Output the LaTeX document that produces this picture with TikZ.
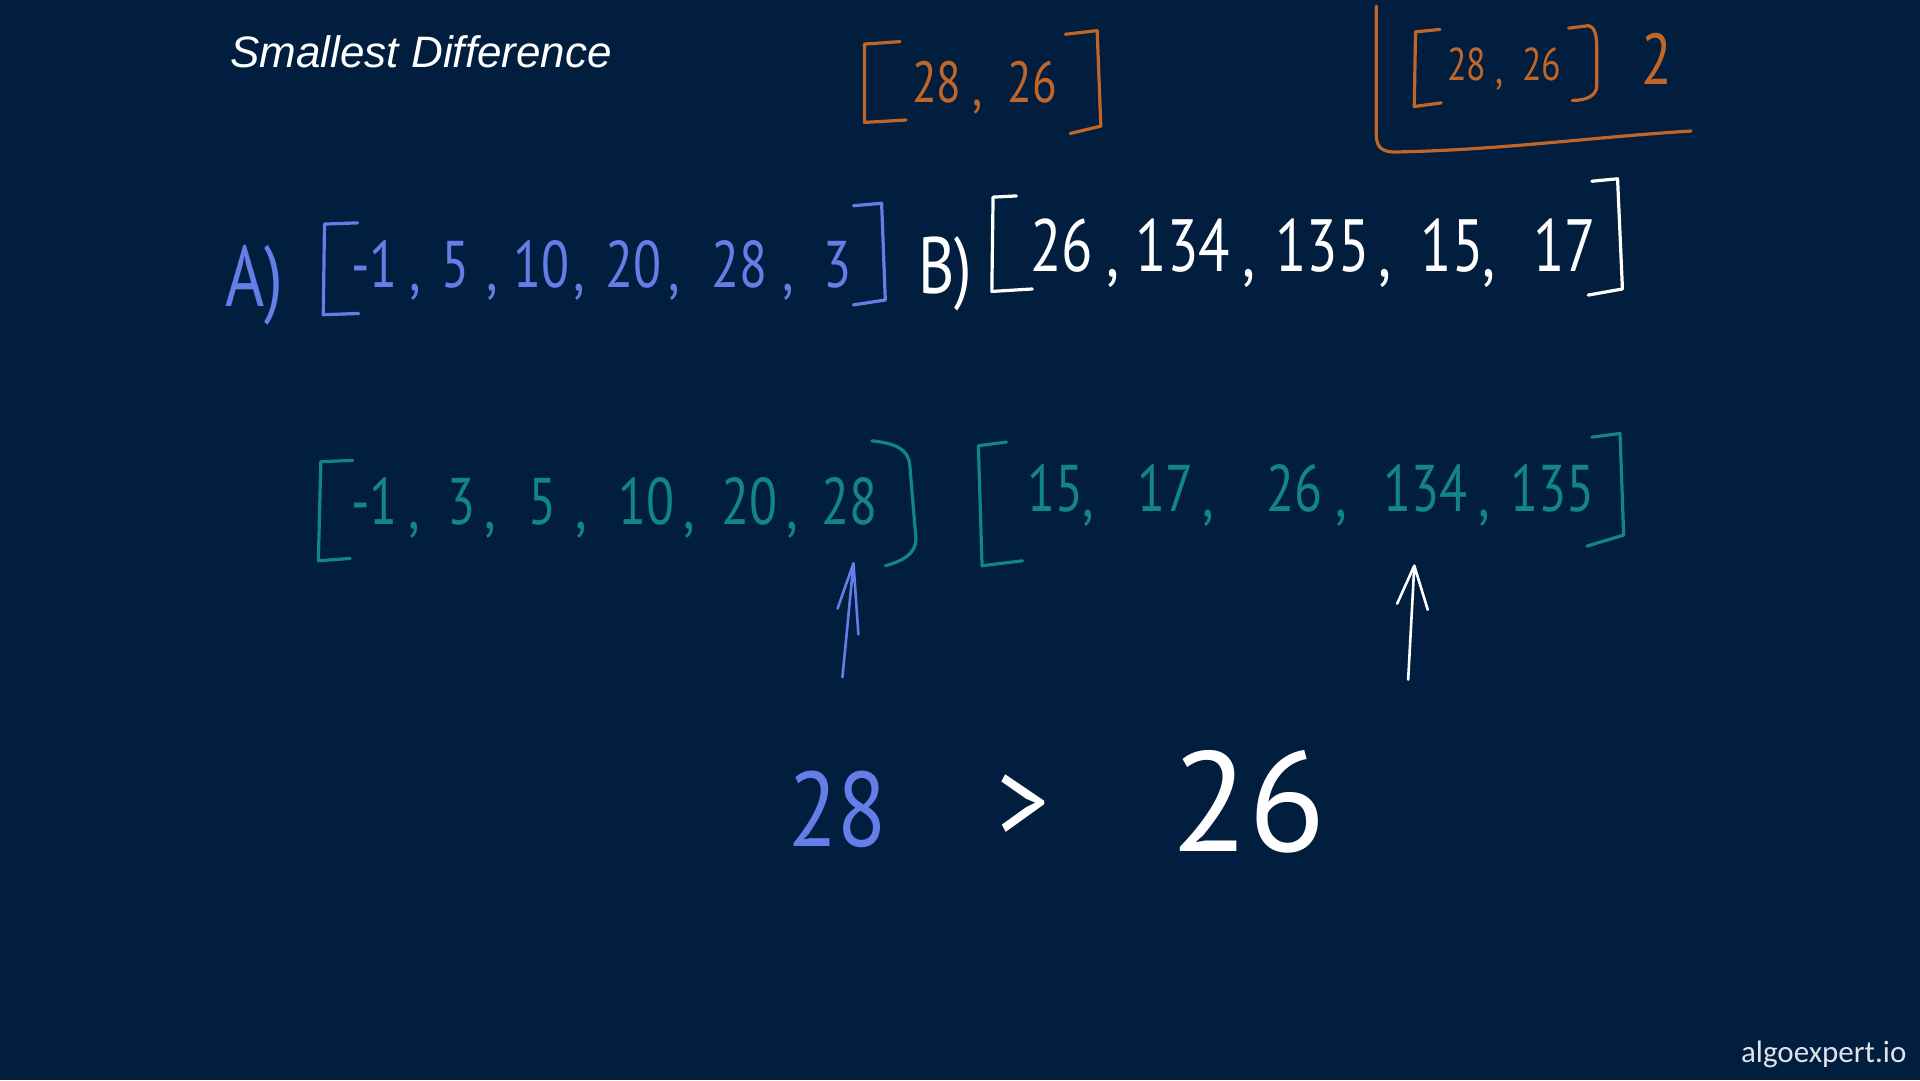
\documentclass[tikz,border=0pt]{standalone}
\usepackage{fontspec}
\setmainfont{PT Sans}
\newfontfamily\handfont[FakeStretch=0.78]{PT Sans}
\newfontfamily\bighand[FakeStretch=0.85]{PT Sans}
\newfontfamily\titlefont{Liberation Sans}
\newfontfamily\wmfont{Carlito}
\definecolor{bgnavy}{RGB}{1,30,62}
\definecolor{penblue}{RGB}{100,126,232}
\definecolor{penteal}{RGB}{18,132,140}
\definecolor{penorange}{RGB}{192,102,40}
\definecolor{wmgray}{RGB}{222,226,234}
\tikzset{
  hand/.style={line width=3.2pt, line cap=round, line join=round},
  num/.style={inner sep=0pt, anchor=base},
  bluenum/.style={num, text=penblue, font=\handfont\fontsize{66}{66}\selectfont},
  whitenum/.style={num, text=white, font=\handfont\fontsize{74}{74}\selectfont},
  tealnum/.style={num, text=penteal, font=\handfont\fontsize{66}{66}\selectfont},
  orangenum/.style={num, text=penorange, font=\handfont\fontsize{58}{58}\selectfont},
  smallorange/.style={num, text=penorange, font=\handfont\fontsize{46}{46}\selectfont},
}
\begin{document}
\begin{tikzpicture}[x=1.2245pt,y=-1.2245pt]
\fill[bgnavy] (0,0) rectangle (1568,882);
\useasboundingbox (0,0) rectangle (1568,882);

% title and watermark
\node[inner sep=0pt, anchor=base west, text=white, font=\titlefont\itshape\fontsize{44}{44}\selectfont] (title) at (188,55.5) {Smallest Difference};
\node[inner sep=0pt, anchor=base east, text=wmgray, font=\wmfont\fontsize{31}{31}\selectfont] (wm) at (1557,868) {algoexpert.io};

% ---- orange [28,26]
\draw[hand, penorange] (735,34) -- (706,36) -- (706,100) -- (740,98);
\node[orangenum] (o1) at (765,84) {28};
\node[orangenum] (o1c) at (798,86) {,};
\node[orangenum] (o2) at (843,84) {26};
\draw[hand, penorange] (870,28) -- (896,25) -- (899,103) -- (874,109);

% ---- orange box [28,26] 2
\draw[hand, penorange] (1124,5) -- (1124,110) .. controls (1124,122) and (1130,125) .. (1145,124)
  .. controls (1230,122) and (1300,112) .. (1381,107);
\draw[hand, penorange] (1176,24) -- (1156,26) -- (1155,87) -- (1177,84);
\node[smallorange] (p1) at (1198,66) {28};
\node[smallorange] (p1c) at (1225,68) {,};
\node[smallorange] (p2) at (1259,66) {26};
\draw[hand, penorange] (1281,23) -- (1297,21) .. controls (1303,22) and (1304,30) .. (1304,40) -- (1304,70) .. controls (1304,78) and (1296,82) .. (1284,82);
\node[num, text=penorange, font=\handfont\fontsize{72}{72}\selectfont] (p3) at (1353,69) {2};

% ---- row A
\node[num, text=penblue, font=\handfont\fontsize{86}{86}\selectfont] (A) at (208,250) {A)};
\draw[hand, penblue] (292,182) -- (265,183) -- (264,257) -- (293,256);
\foreach \lbl/\xx [count=\i] in {-1/306, 5/372, 10/442, 20/517, 28/604, 3/684}
  \node[bluenum] (a\i) at (\xx,235) {\lbl};
\foreach \xx [count=\i] in {339,402,473,551,644}
  \node[bluenum] (ac\i) at (\xx,237) {,};
\draw[hand, penblue] (697,168) -- (720,166) -- (723,245) -- (697,249);

% ---- row B
\node[num, text=white, font=\handfont\fontsize{80}{80}\selectfont] (B) at (772,240) {B)};
\draw[hand, white] (830,160) -- (811,161) -- (810,238) -- (843,236);
\foreach \lbl/\xx [count=\i] in {26/867, 134/966, 135/1080, 15/1186, 17/1278}
  \node[whitenum] (b\i) at (\xx,222) {\lbl};
\foreach \xx [count=\i] in {909,1020,1131,1216}
  \node[whitenum] (bc\i) at (\xx,226) {,};
\draw[hand, white] (1300,148) -- (1321,146) -- (1325,236) -- (1297,241);

% ---- sorted A (teal)
\draw[hand, penteal] (288,376) -- (262,377) -- (260,458) -- (286,456);
\foreach \lbl/\xx [count=\i] in {-1/306, 3/377, 5/443, 10/528, 20/612, 28/694}
  \node[tealnum] (s\i) at (\xx,428) {\lbl};
\foreach \xx [count=\i] in {338,400,475,563,647}
  \node[tealnum] (sc\i) at (\xx,432) {,};
\draw[hand, penteal] (712,360) .. controls (730,362) and (742,366) .. (743,380) -- (748,440) .. controls (748,452) and (738,458) .. (723,462);

% ---- sorted B (teal)
\draw[hand, penteal] (822,361) -- (799,364) -- (802,462) -- (835,458);
\foreach \lbl/\xx [count=\i] in {15/862, 17/952, 26/1057, 134/1164, 135/1268}
  \node[tealnum] (t\i) at (\xx,418) {\lbl};
\foreach \xx [count=\i] in {889,987,1095,1212}
  \node[tealnum] (tc\i) at (\xx,422) {,};
\draw[hand, penteal] (1300,357) -- (1323,354) -- (1326,437) -- (1296,446);

% ---- pointer arrows
\coordinate (pa-tail) at (688,553);
\coordinate (pa-tip) at (697,460);
\draw[hand, penblue, line width=2.6pt] (pa-tail) -- (pa-tip) -- (701,518);
\draw[hand, penblue, line width=2.6pt] (pa-tip) -- (684,497);
\coordinate (pb-tail) at (1150,555);
\coordinate (pb-tip) at (1155,462);
\draw[hand, white, line width=2.6pt] (pb-tail) -- (pb-tip) -- (1166,498);
\draw[hand, white, line width=2.6pt] (pb-tip) -- (1141,493);

% ---- comparison
\node[inner sep=0pt, text=penblue, font=\bighand\fontsize{106}{106}\selectfont] (c1) at (684,661) {28};
\node[inner sep=0pt, text=white, font=\bighand\fontsize{120}{120}\selectfont] (c2) at (836,660) {>};
\node[inner sep=0pt, text=white, font=\rmfamily\fontsize{142}{142}\selectfont] (c3) at (1020,655) {26};
\end{tikzpicture}
\end{document}
